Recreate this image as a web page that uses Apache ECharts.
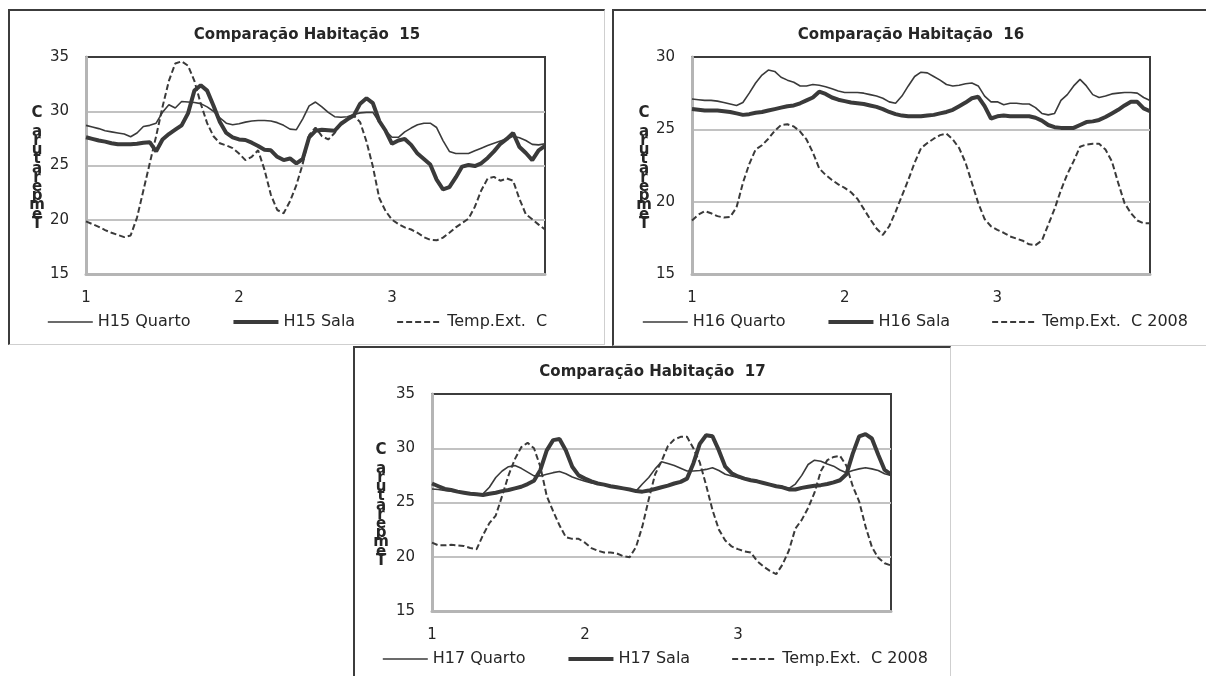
<!DOCTYPE html>
<html>
<head>
<meta charset="utf-8">
<script src="https://cdn.jsdelivr.net/npm/echarts@6/dist/echarts.min.js"></script>
<style>
    body { margin: 0; background: #fff; width: 1206px; height: 676px; position: relative; overflow: hidden; }
    .box {
        position: absolute; box-sizing: border-box;
        border-left: 2px solid #3c3c3c; border-top: 2px solid #3c3c3c;
        border-right: 1px solid #cfcfcf; border-bottom: 1px solid #cfcfcf;
    }
</style>
</head>
<body>
<div class="box" id="h15" style="left:8px;top:9px;width:597px;height:336px;"></div>
<div class="box" id="h16" style="left:612px;top:9px;width:597px;height:337px;"></div>
<div class="box" id="h17" style="left:353px;top:346px;width:598px;height:340px;"></div>

<script>
    // hourly readings, 3 days (index 0 = day 1 00h ... 72 = day 4 00h)
    const hours = [];
    for (let h = 0; h <= 72; h++) hours.push(h);
    const dayLabels = ['1', '2', '3'];

    const h15Quarto = [
        28.7, 28.55, 28.4, 28.2, 28.1, 28.0, 27.9, 27.65, 28.0, 28.6, 28.7, 28.9,
        29.9, 30.6, 30.3, 30.9, 30.85, 30.8, 30.7, 30.4, 30.0, 29.4, 28.9, 28.75,
        28.85, 29.0, 29.1, 29.15, 29.15, 29.1, 28.95, 28.7, 28.35, 28.3, 29.3, 30.5,
        30.85, 30.4, 29.9, 29.5, 29.45, 29.5, 29.7, 29.85, 29.9, 29.9, 29.0, 28.2,
        27.6, 27.6, 28.1, 28.45, 28.75, 28.9, 28.9, 28.5, 27.3, 26.3, 26.1, 26.1,
        26.1, 26.35, 26.6, 26.85, 27.05, 27.25, 27.45, 27.7, 27.55, 27.3, 26.95, 26.9,
        27.0
    ];
    const h15Sala = [
        27.6, 27.45, 27.3, 27.2, 27.05, 26.95, 26.95, 26.95, 27.0, 27.1, 27.15, 26.3,
        27.4, 27.9, 28.3, 28.7, 29.8, 31.9, 32.4, 31.9, 30.5, 29.0, 28.0, 27.6,
        27.4, 27.35, 27.1, 26.8, 26.45, 26.4, 25.8, 25.5, 25.65, 25.2, 25.6, 27.6,
        28.2, 28.3, 28.25, 28.2, 28.85, 29.25, 29.6, 30.7, 31.2, 30.75, 29.1, 28.2,
        27.0, 27.3, 27.45, 26.9, 26.1, 25.6, 25.1, 23.7, 22.8, 23.0, 23.9, 24.9,
        25.05, 24.95, 25.2, 25.7, 26.3, 27.0, 27.45, 28.0, 26.7, 26.15, 25.5, 26.4,
        26.8
    ];
    const h15Temp = [
        19.85, 19.6, 19.35, 19.05, 18.8, 18.6, 18.4, 18.55, 20.2, 22.7, 25.2, 27.7,
        30.4, 32.8, 34.4, 34.6, 34.2, 32.8, 30.7, 28.9, 27.7, 27.05, 26.85, 26.6,
        26.1, 25.5, 25.8, 26.4, 24.6, 22.3, 20.9, 20.6, 21.7, 23.2, 25.15, 27.8,
        28.5, 27.7, 27.4, 28.0, 28.85, 29.3, 29.6, 29.0, 27.2, 24.9, 22.0, 20.8,
        20.0, 19.6, 19.3, 19.1, 18.8, 18.4, 18.15, 18.1, 18.35, 18.8, 19.3, 19.7,
        20.1, 21.2, 22.7, 23.8, 23.95, 23.6, 23.8, 23.6, 21.9, 20.5, 20.05, 19.55,
        19.1
    ];

    const h16Quarto = [
        27.1, 27.05, 27.0, 27.0, 26.95, 26.85, 26.75, 26.65, 26.85, 27.5, 28.2, 28.75,
        29.1, 29.0, 28.6, 28.4, 28.25, 28.0, 28.0, 28.1, 28.05, 27.95, 27.8, 27.65,
        27.55, 27.55, 27.55, 27.5, 27.4, 27.3, 27.15, 26.9, 26.8, 27.3, 28.0, 28.65,
        28.95, 28.9, 28.65, 28.4, 28.1, 28.0, 28.05, 28.15, 28.2, 28.0, 27.3, 26.9,
        26.9, 26.7, 26.8, 26.8, 26.75, 26.75, 26.5, 26.1, 26.0, 26.1, 27.0, 27.4,
        28.0, 28.45, 28.0, 27.4, 27.2, 27.3, 27.45, 27.5, 27.55, 27.55, 27.5, 27.2,
        27.0
    ];
    const h16Sala = [
        26.4, 26.35, 26.3, 26.3, 26.3, 26.25, 26.2, 26.1, 26.0, 26.05, 26.15, 26.2,
        26.3, 26.4, 26.5, 26.6, 26.65, 26.8, 27.0, 27.2, 27.6, 27.45, 27.2, 27.05,
        26.95, 26.85, 26.8, 26.75, 26.65, 26.55, 26.4, 26.2, 26.05, 25.95, 25.9, 25.9,
        25.9, 25.95, 26.0, 26.1, 26.2, 26.35, 26.6, 26.85, 27.15, 27.25, 26.6, 25.75,
        25.9, 25.95, 25.9, 25.9, 25.9, 25.9, 25.8, 25.6, 25.3, 25.15, 25.1, 25.1,
        25.1, 25.3, 25.5, 25.55, 25.65, 25.85, 26.1, 26.35, 26.65, 26.9, 26.9, 26.45,
        26.25
    ];
    const h16Temp = [
        18.7, 19.1, 19.35, 19.2, 19.0, 18.9, 18.95, 19.6, 21.3, 22.6, 23.6, 23.9,
        24.35, 24.9, 25.3, 25.35, 25.2, 24.85, 24.3, 23.4, 22.3, 21.85, 21.5, 21.2,
        20.95, 20.65, 20.2, 19.5, 18.8, 18.15, 17.7, 18.3, 19.3, 20.4, 21.5, 22.7,
        23.7, 24.05, 24.35, 24.6, 24.7, 24.3, 23.7, 22.7, 21.3, 19.9, 18.8, 18.3,
        18.05, 17.85, 17.6, 17.45, 17.3, 17.05, 17.0, 17.3, 18.4, 19.5, 20.8, 21.9,
        22.8, 23.8, 23.95, 24.0, 24.0, 23.6, 22.8, 21.3, 19.9, 19.2, 18.7, 18.5,
        18.5
    ];

    const h17Quarto = [
        26.25, 26.2, 26.1, 26.05, 26.0, 25.9, 25.85, 25.75, 25.8, 26.4, 27.3, 27.9,
        28.3, 28.4, 28.15, 27.8, 27.45, 27.45, 27.6, 27.75, 27.85, 27.65, 27.35, 27.15,
        26.95, 26.8, 26.7, 26.6, 26.5, 26.4, 26.3, 26.2, 26.05, 26.7, 27.3, 28.1,
        28.75, 28.6, 28.4, 28.15, 27.9, 27.9, 27.95, 28.05, 28.2, 27.95, 27.6, 27.45,
        27.3, 27.15, 27.0, 26.9, 26.8, 26.65, 26.55, 26.45, 26.3, 26.7, 27.5, 28.5,
        28.9, 28.8, 28.55, 28.35, 28.0, 27.75, 27.95, 28.1, 28.2, 28.1, 27.95, 27.65,
        27.5
    ];
    const h17Sala = [
        26.75, 26.5, 26.25, 26.15, 26.0, 25.9, 25.8, 25.75, 25.7, 25.8, 25.9, 26.05,
        26.15, 26.3, 26.45, 26.7, 27.0, 28.0, 29.8, 30.75, 30.85, 29.8, 28.3, 27.5,
        27.2, 26.95, 26.75, 26.65, 26.5, 26.4, 26.3, 26.2, 26.05, 26.0, 26.1, 26.25,
        26.4, 26.55, 26.75, 26.9, 27.2, 28.6, 30.4, 31.2, 31.1, 29.8, 28.3, 27.7,
        27.4, 27.2, 27.05, 26.95, 26.8, 26.65, 26.5, 26.4, 26.2, 26.2, 26.35, 26.45,
        26.55, 26.6, 26.7, 26.85, 27.05, 27.6, 29.5, 31.1, 31.3, 30.9, 29.4, 28.0,
        27.6
    ];
    const h17Temp = [
        21.3, 21.05, 21.05, 21.1, 21.05, 21.0, 20.8, 20.7, 22.0, 23.1, 23.8, 25.6,
        27.5, 29.0, 30.1, 30.5, 30.0, 28.3, 25.6, 24.2, 22.9, 21.8, 21.65, 21.65,
        21.3, 20.8, 20.55, 20.4, 20.4, 20.3, 20.05, 19.95, 20.9, 22.8, 25.3, 27.6,
        28.8, 30.2, 30.8, 31.05, 31.05, 30.0, 28.7, 26.6, 24.3, 22.5, 21.5, 20.95,
        20.7, 20.5, 20.4, 19.6, 19.1, 18.7, 18.4, 19.3, 20.6, 22.6, 23.4, 24.5,
        25.9, 27.9, 28.9, 29.2, 29.3, 28.4, 26.5, 25.1, 22.8, 20.9, 19.9, 19.4,
        19.2
    ];

    // "Temperatura C" stacked vertically, as in the original sheet
    const yLabel = 'C\n\na\nr\nu\nt\na\nr\ne\np\nm\ne\nT';
    const ink = '#262626';
    const lineColor = '#3a3a3a';

    function makeChart (id, cfg) {
        const chart = echarts.init(document.getElementById(id));
        const option = {
            animation: false,
            textStyle: { fontFamily: 'DejaVu Sans' },
            title: {
                text: cfg.title,
                left: 'center',
                top: 12,
                textStyle: { fontSize: 15, fontWeight: 'bold', color: ink, fontFamily: 'DejaVu Sans' }
            },
            legend: {
                left: cfg.legendLeft,
                top: 303,
                padding: 0,
                itemWidth: 45,
                itemHeight: 12,
                itemGap: 41,
                itemStyle: { opacity: 0 }, // no marker in the middle of the legend line
                textStyle: { fontSize: 16, color: ink },
                data: [
                    { name: cfg.names[0], lineStyle: { width: 1.6 } },
                    { name: cfg.names[1], lineStyle: { width: 4 } },
                    { name: cfg.names[2], lineStyle: { width: 2, type: [6, 3] } }
                ]
            },
            grid: {
                left: cfg.gridLeft,
                top: 46,
                width: cfg.gridWidth,
                height: 217,
                show: true,
                borderColor: '#3c3c3c',
                borderWidth: 2
            },
            xAxis: {
                type: 'category',
                data: hours,
                boundaryGap: false,
                axisTick: { show: false },
                axisLine: { lineStyle: { color: '#b5b5b5', width: 3 } },
                axisLabel: {
                    margin: 17,
                    fontSize: 15,
                    color: ink,
                    interval: function (idx) { return idx % 24 === 0 && idx < 72; },
                    formatter: function (v, idx) { return dayLabels[idx / 24] || ''; }
                }
            },
            yAxis: {
                type: 'value',
                min: 15,
                max: cfg.yMax,
                interval: 5,
                axisLine: { show: true, lineStyle: { color: '#b5b5b5', width: 3 } },
                axisTick: { show: false },
                axisLabel: { margin: 17, fontSize: 15, color: ink },
                splitLine: { showMinLine: false, showMaxLine: false, lineStyle: { color: '#c2c2c2', width: 2 } }
            },
            graphic: [{
                type: 'text',
                x: cfg.nameX,
                y: 98,
                style: { text: yLabel, font: 'bold 15px "DejaVu Sans"', lineHeight: 9.2, fill: ink, align: 'center' }
            }],
            series: [
                {
                    name: cfg.names[0], type: 'line', data: cfg.quarto, symbol: 'none',
                    lineStyle: { color: lineColor, width: 1.6 }, itemStyle: { color: lineColor }
                },
                {
                    name: cfg.names[1], type: 'line', data: cfg.sala, symbol: 'none',
                    lineStyle: { color: lineColor, width: 4 }, itemStyle: { color: lineColor }
                },
                {
                    name: cfg.names[2], type: 'line', data: cfg.temp, symbol: 'none',
                    lineStyle: { color: lineColor, width: 2, type: [6, 3] }, itemStyle: { color: lineColor }
                }
            ]
        };
        chart.setOption(option);
        return chart;
    }

    makeChart('h15', {
        title: 'Comparação Habitação  15',
        names: ['H15 Quarto', 'H15 Sala', 'Temp.Ext.  C'],
        quarto: h15Quarto, sala: h15Sala, temp: h15Temp,
        yMax: 35, gridLeft: 76, gridWidth: 459, legendLeft: 37, nameX: 27
    });
    makeChart('h16', {
        title: 'Comparação Habitação  16',
        names: ['H16 Quarto', 'H16 Sala', 'Temp.Ext.  C 2008'],
        quarto: h16Quarto, sala: h16Sala, temp: h16Temp,
        yMax: 30, gridLeft: 78, gridWidth: 458, legendLeft: 28, nameX: 30
    });
    makeChart('h17', {
        title: 'Comparação Habitação  17',
        names: ['H17 Quarto', 'H17 Sala', 'Temp.Ext.  C 2008'],
        quarto: h17Quarto, sala: h17Sala, temp: h17Temp,
        yMax: 35, gridLeft: 77, gridWidth: 459, legendLeft: 27, nameX: 26
    });
</script>
</body>
</html>
